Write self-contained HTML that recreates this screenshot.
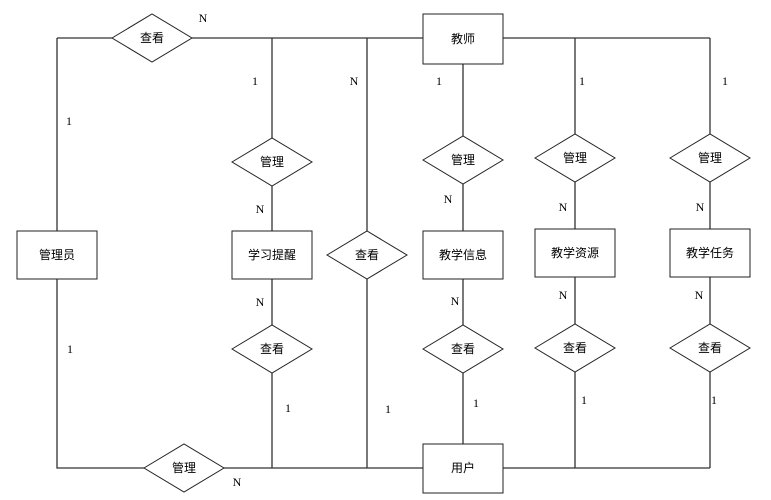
<!DOCTYPE html>
<html><head><meta charset="utf-8"><style>body{margin:0;background:#fff}svg{display:block}text{font-family:"Liberation Serif","Noto Sans CJK SC",serif;font-size:12px;fill:#000}</style></head><body>
<svg width="771" height="500" xmlns="http://www.w3.org/2000/svg">
<g stroke="#333" stroke-width="1.3" fill="none">
<path d="M57 38H112M192 38H423M503 38H710"/>
<path d="M57 38V231M57 279V468H144M224 468H423M503 468H710"/>
<path d="M272 38V138M272 186V231M272 279V325M272 373V468"/>
<path d="M367 38V231M367 279V468"/>
<path d="M463 64V136M463 184V231M463 279V325M463 373V444"/>
<path d="M575 38V134M575 182V229M575 277V324M575 372V468"/>
<path d="M710 38V134M710 182V229M710 277V324M710 372V468"/>
</g>
<g stroke="#222" stroke-width="1" fill="#fff">
<rect x="423" y="14" width="80" height="50"/>
<rect x="423" y="444" width="80" height="49"/>
<rect x="17" y="231" width="80" height="48"/>
<rect x="232" y="231" width="80" height="48"/>
<rect x="423" y="231" width="80" height="48"/>
<rect x="535" y="229" width="80" height="48"/>
<rect x="670" y="229" width="80" height="48"/>
<polygon points="112,38 152,14 192,38 152,62"/>
<polygon points="232,162 272,138 312,162 272,186"/>
<polygon points="423,160 463,136 503,160 463,184"/>
<polygon points="535,158 575,134 615,158 575,182"/>
<polygon points="670,158 710,134 750,158 710,182"/>
<polygon points="327,255 367,231 407,255 367,279"/>
<polygon points="232,349 272,325 312,349 272,373"/>
<polygon points="423,349 463,325 503,349 463,373"/>
<polygon points="535,348 575,324 615,348 575,372"/>
<polygon points="670,348 710,324 750,348 710,372"/>
<polygon points="144,468 184,444 224,468 184,492"/>
</g>
<g text-anchor="middle" dominant-baseline="central">
<text x="463" y="39">教师</text><text x="463" y="468">用户</text>
<text x="57" y="255">管理员</text><text x="272" y="255">学习提醒</text>
<text x="463" y="255">教学信息</text><text x="575" y="253">教学资源</text><text x="710" y="253">教学任务</text>
<text x="152" y="38">查看</text><text x="272" y="162">管理</text><text x="463" y="160">管理</text>
<text x="575" y="158">管理</text><text x="710" y="158">管理</text><text x="367" y="255">查看</text>
<text x="272" y="349">查看</text><text x="463" y="349">查看</text><text x="575" y="348">查看</text>
<text x="710" y="348">查看</text><text x="184" y="468">管理</text>
<text x="203" y="18">N</text><text x="69" y="121">1</text><text x="255" y="81">1</text>
<text x="354" y="81">N</text><text x="439" y="81">1</text><text x="582" y="81">1</text><text x="725" y="81">1</text>
<text x="260" y="209">N</text><text x="448" y="199">N</text><text x="563" y="207">N</text><text x="700" y="207">N</text>
<text x="260" y="302">N</text><text x="455" y="301">N</text><text x="563" y="295">N</text><text x="699" y="295">N</text>
<text x="70" y="349">1</text><text x="288" y="408">1</text><text x="388" y="409">1</text>
<text x="476" y="403">1</text><text x="584" y="400">1</text><text x="714" y="400">1</text>
<text x="237" y="482">N</text>
</g>
</svg>
</body></html>
